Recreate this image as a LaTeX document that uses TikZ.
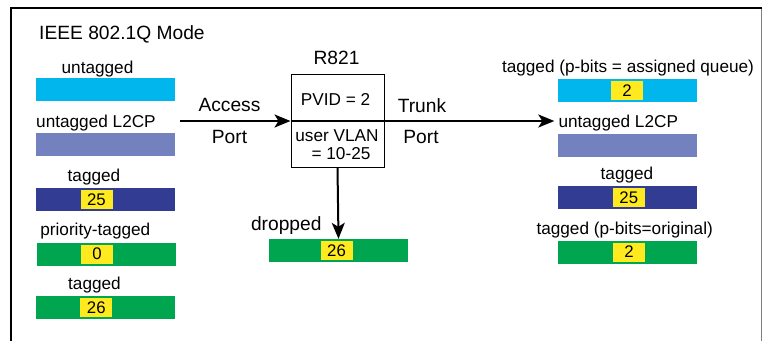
\documentclass[tikz,border=0pt]{standalone}
\usepackage{fontspec}
\setmainfont{Liberation Sans}
\usetikzlibrary{arrows.meta}
\definecolor{cyanbar}{RGB}{0,182,237}
\definecolor{lilac}{RGB}{115,129,191}
\definecolor{navy}{RGB}{51,60,147}
\definecolor{grn}{RGB}{0,165,80}
\definecolor{ylw}{RGB}{255,234,32}
\newcommand{\smallfnt}{\fontsize{17.2}{20}\selectfont}
\newcommand{\bigfnt}{\fontsize{19.2}{22}\selectfont}
\newcommand{\numfnt}{\fontsize{16.8}{20}\selectfont}
\tikzset{
  bar/.style={minimum width=139pt, minimum height=23pt, inner sep=0pt, draw=none, fill=#1},
  ybox/.style={fill=ylw, minimum width=32pt, minimum height=19pt, inner sep=0pt, font=\numfnt},
  lbl/.style={inner sep=0pt, font=\smallfnt, anchor=base},
  biglbl/.style={inner sep=0pt, font=\bigfnt, anchor=base},
  arr/.style={line width=2pt, -{Stealth[length=16pt,width=13pt,inset=4pt]}},
}
\begin{document}
\begin{tikzpicture}[x=1pt,y=-1pt]
\useasboundingbox (0,0) rectangle (763,341);
% frame
\draw[line width=2.5pt] (11,341) -- (11,8) -- (762,8);
\draw[gray, line width=1.2pt] (761.5,9) -- (761.5,341);
\node[biglbl, anchor=base west] (title) at (39,39.5) {IEEE 802.1Q Mode};

% left column
\node[lbl] (lt1) at (97.5,73) {untagged};
\node[bar=cyanbar] (lb1) at (105.5,89.5) {};
\node[lbl, anchor=base west] (lt2) at (36,127) {untagged L2CP};
\node[bar=lilac] (lb2) at (105.5,144) {};
\node[lbl] (lt3) at (94,181) {tagged};
\node[bar=navy] (lb3) at (105.5,199.5) {};
\node[ybox] (ly3) at (96.5,199.5) {25};
\node[lbl] (lt4) at (95.3,235) {priority-tagged};
\node[bar=grn] (lb4) at (106,254) {};
\node[ybox] (ly4) at (97,254) {0};
\node[lbl] (lt5) at (94.5,289.5) {tagged};
\node[bar=grn] (lb5) at (105.5,307.5) {};
\node[ybox] (ly5) at (96.3,307.5) {26};

% access port
\coordinate (ain) at (180,121);
\node[biglbl] (acc) at (229.5,111.7) {Access};
\node[biglbl] (accp) at (229.5,143.3) {Port};

% switch
\node[biglbl] (rname) at (336.5,64) {R821};
\node[draw, line width=1pt, minimum width=93pt, minimum height=93pt, inner sep=0pt] (sw) at (337.5,121) {};
\node[lbl] (pvid) at (335.5,105) {PVID = 2};
\node[lbl] (uv1) at (337,141.7) {user VLAN};
\node[lbl] (uv2) at (341,159) {= 10-25};
\draw[arr] (ain) -- (sw.west);
\draw[line width=2pt] (sw.west) -- (sw.east);

% trunk port
\node[biglbl] (trk) at (422,112.5) {Trunk};
\node[biglbl] (trkp) at (421,143.3) {Port};

% dropped
\node[biglbl] (drt) at (286.3,230) {dropped};
\node[bar=grn] (db) at (338.5,250.5) {};
\node[ybox] (dy) at (336.5,250.5) {26};
\draw[arr] (sw.south) -- (db.north);

% right column
\node[lbl] (rt1) at (628,72.5) {tagged (p-bits = assigned queue)};
\node[bar=cyanbar] (rb1) at (627,90.5) {};
\node[ybox] (ry1) at (627,90.5) {2};
\node[lbl, anchor=base west] (rt2) at (558.3,127) {untagged L2CP};
\node[bar=lilac] (rb2) at (627,145) {};
\node[lbl] (rt3) at (627,179.5) {tagged};
\node[bar=navy] (rb3) at (627,197.5) {};
\node[ybox] (ry3) at (628.8,197.5) {25};
\node[lbl] (rt4) at (624.7,234.3) {tagged (p-bits=original)};
\node[bar=grn] (rb4) at (627,252) {};
\node[ybox] (ry4) at (629,252) {2};

\draw[arr, shorten >=4pt] (sw.east) -- (sw.east -| rt2.west);
\end{tikzpicture}
\end{document}
